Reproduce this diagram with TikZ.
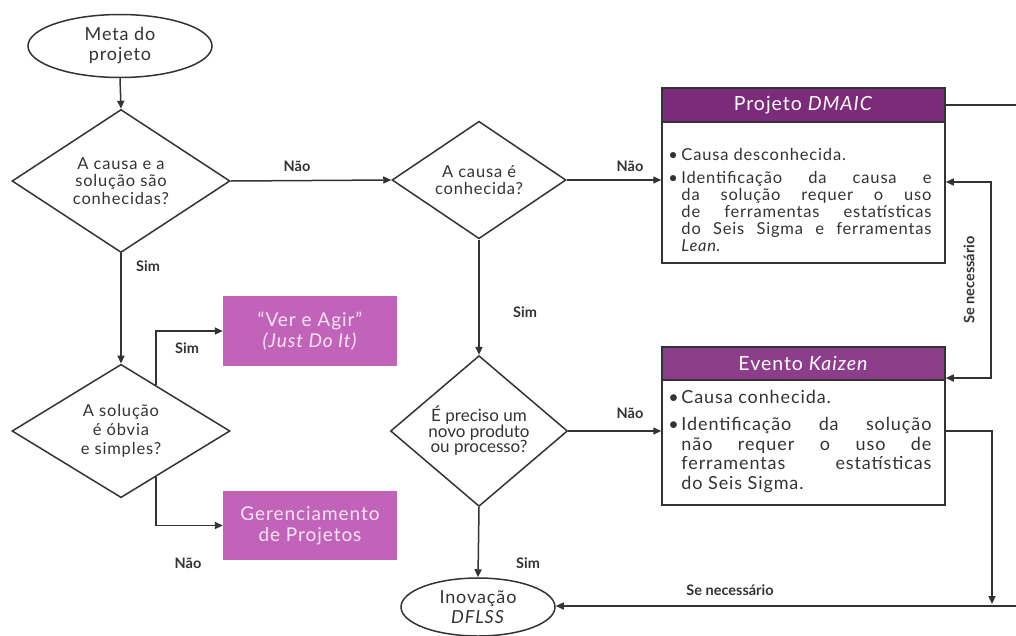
\documentclass[tikz,border=0pt]{standalone}
\usepackage{fontspec}
\setmainfont{Lato}[LetterSpace=5]
\newfontfamily\labfont{Lato}
\usetikzlibrary{shapes.geometric,arrows.meta,calc}
\definecolor{ink}{HTML}{333333}
\definecolor{pinkfill}{HTML}{C263BA}
\definecolor{pinktext}{HTML}{F7E4F4}
\definecolor{dmaicbar}{HTML}{7B2B79}
\definecolor{kaizenbar}{HTML}{8D3E8B}
\begin{document}
\begin{tikzpicture}[x=1pt,y=-1pt,
  term/.style={ellipse, draw=ink, line width=1.5pt, inner sep=0pt, align=center,
    text=ink, font=\fontsize{18}{20}\selectfont},
  dec/.style={diamond, draw=ink, line width=1.5pt, inner sep=0pt, align=center,
    text=ink, font=\fontsize{16.5}{17.5}\selectfont},
  pinkbox/.style={rectangle, fill=pinkfill, text=pinktext, align=center, inner sep=0pt,
    minimum width=174pt, font=\fontsize{19}{21}\selectfont},
  panel/.style={rectangle, draw=ink, line width=1.5pt, fill=white, inner sep=0pt,
    minimum width=283pt},
  headbar/.style={rectangle, draw=ink, line width=1.5pt, text=white, inner sep=0pt,
    minimum width=283pt, font=\fontsize{19.5}{21}\selectfont},
  bodytxt/.style={anchor=north west, inner sep=0pt, text=ink, align=justify,
    text width=263pt},
  flow/.style={draw=ink, line width=1.5pt, -{Triangle[length=8pt,width=7pt]}},
  lab/.style={inner sep=0pt, text=ink, font=\labfont\bfseries\fontsize{14.5}{14.5}\selectfont}]

\useasboundingbox (0,0) rectangle (1016,635);
\clip (0,0) rectangle (1016,635);
\fill[white] (0,0) rectangle (1016,635);

% start and end terminals
\node[term, minimum width=184pt, minimum height=63pt] (meta) at (120,46) {Meta do\\projeto};
\node[term, minimum width=154pt, minimum height=58pt] (inov) at (478,607) {Inovação\\\textit{DFLSS}};

% decisions
\node[dec, minimum width=218pt, minimum height=97pt] (d1) at (121,181)
  {A causa e a\\solução são\\conhecidas?};
\node[dec, minimum width=174pt, minimum height=100pt] (d2) at (479,180)
  {A causa é\\conhecida?};
\node[dec, minimum width=177pt, minimum height=98pt, font=\labfont\fontsize{17}{15.5}\selectfont] (d3) at (479,431)
  {É preciso um\\novo produto\\ou processo?};
\node[dec, minimum width=218pt, minimum height=98pt, font=\fontsize{16.5}{19}\selectfont] (d4) at (121,431)
  {A solução\\é óbvia\\e simples?};

% quick outcomes
\node[pinkbox, minimum height=70pt] (ver) at (310,331) {“Ver e Agir”\\\textit{(Just Do It)}};
\node[pinkbox, minimum height=69pt] (ger) at (310,525.5) {Gerenciamento\\de Projetos};

% DMAIC project panel
\node[panel, minimum height=175pt] (dmaic) at (803.5,175.5) {};
\node[headbar, fill=dmaicbar, minimum height=34pt, anchor=north] (dmaichead) at (dmaic.north)
  {Projeto \textit{DMAIC}};
\node[bodytxt, font=\fontsize{16.5}{17}\selectfont] (dmaicbody) at ($(dmaichead.south west)+(7,25)$)
  {\makebox[13pt][l]{\textbullet}Causa desconhecida.\par\vspace{6pt}
   \hangindent=13pt\hangafter=1\makebox[13pt][l]{\textbullet}Identificação da causa e\linebreak
   da solução requer o uso\linebreak de ferramentas estatísticas\linebreak
   do Seis Sigma e ferramentas\linebreak \textit{Lean}.\par};

% Kaizen event panel
\node[panel, minimum height=158pt] (kaizen) at (803.5,426) {};
\node[headbar, fill=kaizenbar, minimum height=33pt, anchor=north] (kaizenhead) at (kaizen.north)
  {Evento \textit{Kaizen}};
\node[bodytxt, font=\fontsize{18}{19.5}\selectfont] (kaizenbody) at ($(kaizenhead.south west)+(7,9)$)
  {\makebox[13pt][l]{\textbullet}Causa conhecida.\par\vspace{8pt}
   \hangindent=13pt\hangafter=1\makebox[13pt][l]{\textbullet}Identificação da solução\linebreak
   não requer o uso de\linebreak ferramentas estatísticas\linebreak do Seis Sigma.\par};

% main flow
\draw[flow] (meta.south) -- (d1.north);
\draw[flow] (d1.east) -- (d2.west);
\node[lab] (l1) at (297,166) {Não};
\draw[flow] (d1.south) -- (d4.north);
\node[lab] (l2) at (148,266) {Sim};
\draw[flow] ($(d4.north)!0.32!(d4.east)$) |- (ver.west);
\node[lab] (l3) at (187,348) {Sim};
\draw[flow] ($(d4.south)!0.32!(d4.east)$) |- (ger.west);
\node[lab] (l4) at (188,563) {Não};
\draw[flow] (d2.east) -- (d2.east -| dmaic.west);
\node[lab] (l5) at (630,166) {Não};
\draw[flow] (d2.south) -- (d3.north);
\node[lab] (l6) at (525,312) {Sim};
\draw[flow] (d3.east) -- (d3.east -| kaizen.west);
\node[lab] (l7) at (630,413) {Não};
\draw[flow] (d3.south) -- (inov.north);
\node[lab] (l8) at (528,563) {Sim};

% escalation between DMAIC and Kaizen
\coordinate (sw1) at (991,182);
\coordinate (sw2) at (991,378);
\draw[draw=ink, line width=1.5pt, {Triangle[length=8pt,width=7pt]}-{Triangle[length=8pt,width=7pt]}]
  (sw1 -| dmaic.east) -- (sw1) -- (sw2) -- (sw2 -| kaizen.east);
\node[lab, rotate=90] (l9) at (969,280) {Se necessário};

% routes to DFLSS
\coordinate (rim) at (1030,105);
\coordinate (drop) at (992,431);
\coordinate (bus) at (1030,606);
\draw[flow] (rim -| dmaic.east) -- (rim) -- (bus) -- (bus -| inov.east);
\draw[flow] (drop -| kaizen.east) -- (drop) -- ($(drop |- bus)+(0,-2)$);
\node[lab] (l10) at (730,590) {Se necessário};
\end{tikzpicture}
\end{document}
